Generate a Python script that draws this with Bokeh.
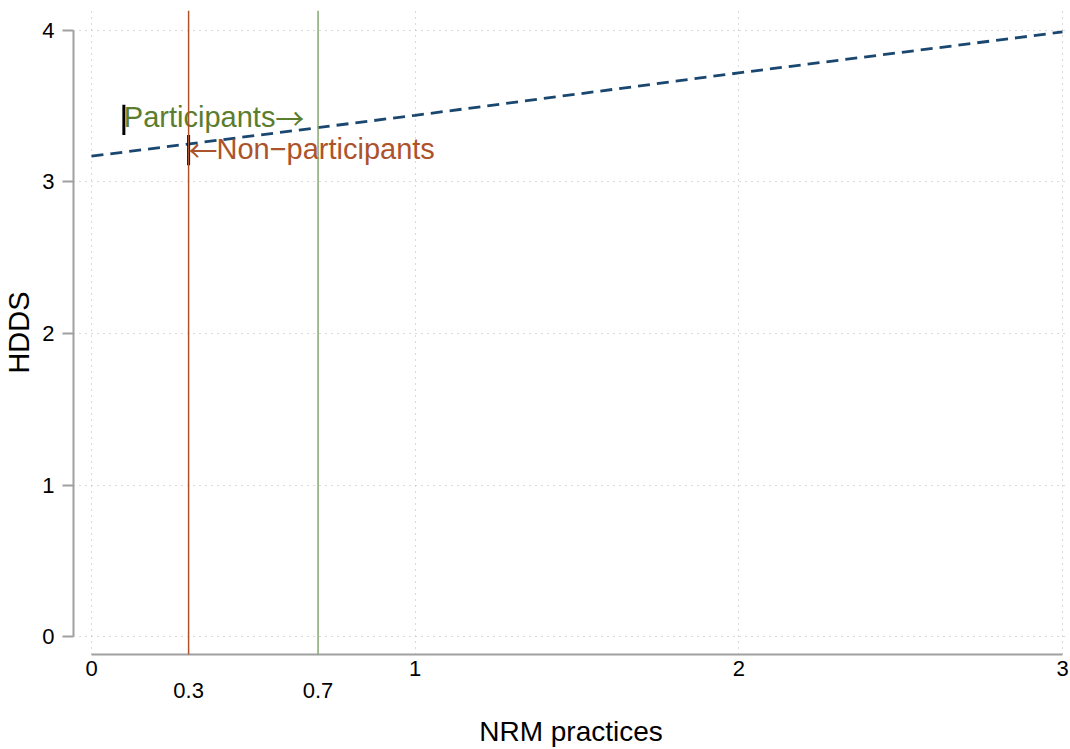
from bokeh.plotting import figure
from bokeh.models import LinearAxis, FixedTicker, Grid, Span, Range1d, ColumnDataSource
from bokeh.core.properties import value
from bokeh.embed import file_html
from bokeh.resources import INLINE

# ---- data ----
x_ticks = [0, 1, 2, 3]
x_tick_labels = ["0", "1", "2", "3"]
x_extra_ticks = [0.3, 0.7]
x_extra_labels = ["0.3", "0.7"]
y_ticks = [0, 1, 2, 3, 4]
y_tick_labels = ["0", "1", "2", "3", "4"]

fit_x = [0, 1, 2, 3]
fit_y = [3.17, 3.44, 3.72, 3.99]

mean_nonparticipants = 0.3
mean_participants = 0.7

marker_x = [0.1, 0.3]
marker_y0 = [3.31, 3.11]
marker_y1 = [3.51, 3.31]

note_text = ["Participants", "Non\u2212participants"]
note_x = [0.1, 0.386]
note_y = [3.43, 3.215]

arrow_text = ["\u2192", "\u2190"]
arrow_x = [0.568, 0.3]
arrow_y = [3.43, 3.215]

GREEN_TXT = "#5b7d2d"
GREEN_LINE = "#86a870"
BROWN = "#ac532b"
NAVY = "#1a476f"
AXIS_GRAY = "#a0a0a0"
FONT = "Liberation Sans"

p = figure(width=1070, height=749, output_backend="svg", toolbar_location=None,
           x_range=Range1d(-0.0556, 3.0185), y_range=Range1d(-0.1186, 4.1318),
           x_axis_type=None, y_axis_type=None,
           min_border_left=73, min_border_right=2, min_border_top=10, min_border_bottom=94)
p.outline_line_color = None
p.background_fill_color = "white"
p.border_fill_color = "white"

# grids
p.add_layout(Grid(dimension=0, ticker=FixedTicker(ticks=x_ticks),
                  grid_line_color="#b4b4b4", grid_line_dash="1 5", grid_line_width=1))
p.add_layout(Grid(dimension=1, ticker=FixedTicker(ticks=y_ticks),
                  grid_line_color="#b4b4b4", grid_line_dash="1 5", grid_line_width=1))

# y axis
yaxis = LinearAxis(ticker=FixedTicker(ticks=y_ticks), bounds=(0, 4),
                   major_label_overrides={t: l for t, l in zip(y_ticks, y_tick_labels)},
                   axis_label="HDDS")
yaxis.axis_line_color = AXIS_GRAY
yaxis.axis_line_width = 2
yaxis.major_tick_line_color = AXIS_GRAY
yaxis.major_tick_line_width = 2
yaxis.major_tick_out = 11
yaxis.major_tick_in = 0
yaxis.minor_tick_line_color = None
yaxis.major_label_text_font = FONT
yaxis.major_label_text_font_size = "22px"
yaxis.major_label_text_color = "black"
yaxis.major_label_standoff = 8
yaxis.major_label_orientation = "horizontal"
yaxis.axis_label_text_font = FONT
yaxis.axis_label_text_font_size = "29px"
yaxis.axis_label_text_font_style = "normal"
yaxis.axis_label_text_color = "black"
yaxis.axis_label_standoff = 4
p.add_layout(yaxis, "left")

# x axis (main ticks)
xaxis = LinearAxis(ticker=FixedTicker(ticks=x_ticks), bounds=(0, 3),
                   major_label_overrides={t: l for t, l in zip(x_ticks, x_tick_labels)})
xaxis.axis_line_color = AXIS_GRAY
xaxis.axis_line_width = 2
xaxis.major_tick_line_color = None
xaxis.major_tick_out = 0
xaxis.major_tick_in = 0
xaxis.minor_tick_line_color = None
xaxis.major_label_text_font = FONT
xaxis.major_label_text_font_size = "22px"
xaxis.major_label_text_color = "black"
xaxis.major_label_standoff = 6
p.add_layout(xaxis, "below")

# x axis (alternate labels 0.3 / 0.7)
xaxis2 = LinearAxis(ticker=FixedTicker(ticks=x_extra_ticks),
                    major_label_overrides={t: l for t, l in zip(x_extra_ticks, x_extra_labels)},
                    axis_label="NRM practices")
xaxis2.axis_line_color = None
xaxis2.major_tick_line_color = None
xaxis2.major_tick_out = 0
xaxis2.major_tick_in = 0
xaxis2.minor_tick_line_color = None
xaxis2.major_label_text_font = FONT
xaxis2.major_label_text_font_size = "22px"
xaxis2.major_label_text_color = "black"
xaxis2.major_label_standoff = 4
xaxis2.axis_label_text_font = FONT
xaxis2.axis_label_text_font_size = "28px"
xaxis2.axis_label_text_font_style = "normal"
xaxis2.axis_label_text_color = "black"
xaxis2.axis_label_standoff = 15
p.add_layout(xaxis2, "below")

# vertical mean lines
p.add_layout(Span(location=mean_nonparticipants, dimension="height",
                  line_color=BROWN, line_width=1.5))
p.add_layout(Span(location=mean_participants, dimension="height",
                  line_color=GREEN_LINE, line_width=1.5))

# fitted line
p.line(fit_x, fit_y, line_color=NAVY, line_width=2.8, line_dash="12 7")

# markers
p.segment(x0=marker_x, y0=marker_y0, x1=marker_x, y1=marker_y1,
          line_color="black", line_width=3)

# annotations
src = ColumnDataSource(dict(x=note_x, y=note_y, t=note_text, c=[GREEN_TXT, BROWN]))
p.text(x="x", y="y", text="t", text_color="c", source=src,
       text_font=value(FONT), text_font_size=value("29px"),
       text_align="left", text_baseline="middle")
src_a = ColumnDataSource(dict(x=arrow_x, y=arrow_y, t=arrow_text, c=[GREEN_TXT, BROWN]))
p.text(x="x", y="y", text="t", text_color="c", source=src_a,
       text_font=value("Noto Sans CJK JP"), text_font_size=value("29px"),
       text_align="left", text_baseline="middle")

open("out.html", "w").write(file_html(p, INLINE))
